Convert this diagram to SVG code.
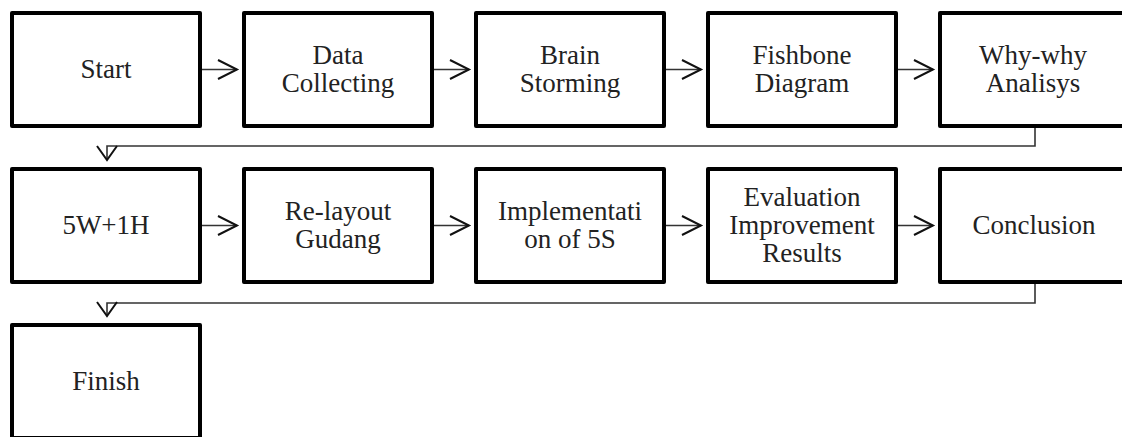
<svg xmlns="http://www.w3.org/2000/svg" width="1122" height="437" viewBox="0 0 1122 437">
<style>
.box{fill:#fff;stroke:#000;stroke-width:4;stroke-linejoin:round}
.lbl{font-size:27px;fill:#222;text-anchor:middle}
.ln{fill:none;stroke:#333;stroke-width:1.6}
.hd{fill:none;stroke:#111;stroke-width:2}
</style>
<rect width="1122" height="437" fill="#fff"/>
<g id="connectors">
<path class="ln" d="M202 69.5H237M434 69.5H469M666 69.5H701M898 69.5H933"/>
<path class="hd" d="M218 60L237 69.5L218 79M450 60L469 69.5L450 79M682 60L701 69.5L682 79M914 60L933 69.5L914 79"/>
<path class="ln" d="M202 225.5H237M434 225.5H469M666 225.5H701M898 225.5H933"/>
<path class="hd" d="M218 216L237 225.5L218 235M450 216L469 225.5L450 235M682 216L701 225.5L682 235M914 216L933 225.5L914 235"/>
<path class="ln" d="M1035 128V146H107V159"/>
<path class="hd" d="M97 146L107 160L117 146"/>
<path class="ln" d="M1035 284V303H107V315"/>
<path class="hd" d="M97 302L107 316L117 302"/>
</g>
<g font-family="Liberation Serif, Times New Roman, serif">
<g id="n1"><rect class="box" x="12" y="13" width="188" height="113"/><text class="lbl" x="106" y="78">Start</text></g>
<g id="n2"><rect class="box" x="244" y="13" width="188" height="113"/><text class="lbl" x="338" y="64"><tspan x="338">Data</tspan><tspan x="338" dy="28">Collecting</tspan></text></g>
<g id="n3"><rect class="box" x="476" y="13" width="188" height="113"/><text class="lbl" x="570" y="64"><tspan x="570">Brain</tspan><tspan x="570" dy="28">Storming</tspan></text></g>
<g id="n4"><rect class="box" x="708" y="13" width="188" height="113"/><text class="lbl" x="802" y="64"><tspan x="802">Fishbone</tspan><tspan x="802" dy="28">Diagram</tspan></text></g>
<g id="n5"><rect class="box" x="940" y="13" width="188" height="113"/><text class="lbl" x="1033" y="64"><tspan x="1033">Why-why</tspan><tspan x="1033" dy="28">Analisys</tspan></text></g>
<g id="n6"><rect class="box" x="12" y="169" width="188" height="113"/><text class="lbl" x="106" y="234">5W+1H</text></g>
<g id="n7"><rect class="box" x="244" y="169" width="188" height="113"/><text class="lbl" x="338" y="220"><tspan x="338">Re-layout</tspan><tspan x="338" dy="28">Gudang</tspan></text></g>
<g id="n8"><rect class="box" x="476" y="169" width="188" height="113"/><text class="lbl" x="570" y="220"><tspan x="570">Implementati</tspan><tspan x="570" dy="28">on of 5S</tspan></text></g>
<g id="n9"><rect class="box" x="708" y="169" width="188" height="113"/><text class="lbl" x="802" y="206"><tspan x="802">Evaluation</tspan><tspan x="802" dy="28">Improvement</tspan><tspan x="802" dy="28">Results</tspan></text></g>
<g id="n10"><rect class="box" x="940" y="169" width="188" height="113"/><text class="lbl" x="1034" y="234">Conclusion</text></g>
<g id="n11"><rect class="box" x="12" y="325" width="188" height="113"/><text class="lbl" x="106" y="390">Finish</text></g>
</g>
</svg>
